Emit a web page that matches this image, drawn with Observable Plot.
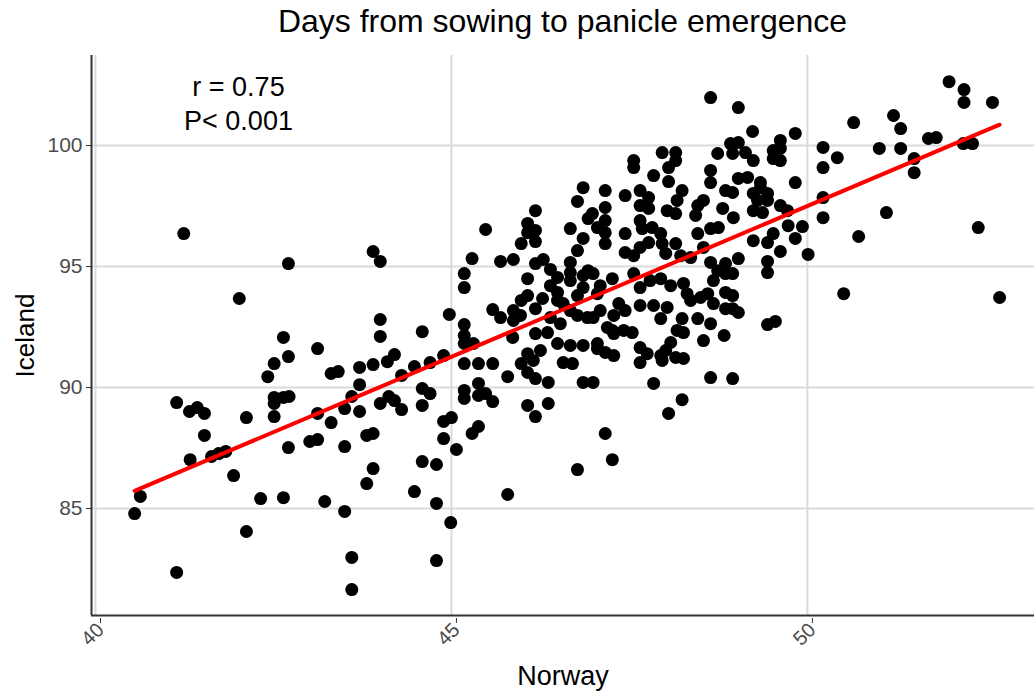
<!DOCTYPE html>
<html><head><meta charset="utf-8">
<script src="https://cdn.jsdelivr.net/npm/d3@7"></script>
<script src="https://cdn.jsdelivr.net/npm/@observablehq/plot@0.6"></script>
<style>
body{margin:0;background:#fff;font-family:"Liberation Sans",Arial,sans-serif;}
#wrap{position:relative;width:1034px;height:693px;}
#title{position:absolute;left:91px;width:943px;top:3px;text-align:center;font-size:32px;color:#000;}
svg{display:block;}
</style></head><body>
<div id="wrap"><div id="title">Days from sowing to panicle emergence</div></div>
<script>
const norway = [
41.24,42.02,42.64,42.51,42.42,42.51,42.51,42.51,42.12,41.14,
41.32,41.43,41.53,41.53,41.33,41.63,41.73,41.83,41.94,40.63,
40.55,42.32,42.64,42.12,41.14,42.71,43.90,44.00,44.97,44.00,
44.00,44.59,42.71,43.12,43.31,43.41,43.71,43.90,44.10,44.20,
44.48,44.70,44.89,43.71,44.30,43.60,42.64,42.72,43.50,43.71,
44.00,44.12,44.20,44.30,44.59,44.70,44.59,43.12,43.31,44.89,
45.00,44.89,43.01,43.12,42.71,43.50,43.81,43.90,45.07,44.59,
44.79,43.90,43.81,44.48,44.79,43.22,43.50,44.99,43.60,44.79,
43.60,
46.85,46.77,46.92,46.18,46.07,46.18,46.07,46.18,45.98,45.48,
46.67,46.85,46.77,46.67,45.29,45.69,45.87,46.18,46.29,46.39,
46.49,46.07,45.18,45.18,46.67,46.67,46.85,46.92,46.39,46.49,
46.07,45.98,46.28,46.18,46.49,46.57,46.67,46.77,46.85,45.58,
45.69,45.87,45.97,45.87,45.18,46.39,46.53,46.77,46.91,45.18,
45.18,45.31,45.18,45.38,45.58,45.79,45.98,46.07,46.15,46.07,
46.18,46.36,46.57,46.70,46.67,46.85,46.85,45.18,45.18,45.38,
45.38,45.48,45.58,46.07,46.18,46.36,45.38,45.29,46.77,45.79,
46.18,46.35,46.49,46.25,45.86,
46.99,47.26,47.09,47.05,47.65,47.56,47.35,47.44,47.28,47.09,
46.99,47.65,47.84,48.03,47.94,48.24,48.46,48.64,48.17,48.26,
48.08,48.01,48.54,47.05,47.16,47.28,47.54,47.42,47.26,47.65,
47.75,47.65,47.94,47.96,48.15,48.26,46.99,47.84,48.64,48.24,
48.05,47.16,47.26,48.83,48.95,47.79,47.94,48.08,48.26,48.31,
48.50,48.68,48.64,48.74,48.68,48.60,48.36,47.19,47.28,47.05,
48.64,47.96,48.15,48.15,48.05,47.56,47.56,47.84,48.05,48.64,
48.64,48.74,47.16,47.16,47.16,47.16,47.16,46.98,47.44,47.65,
47.77,47.65,47.77,47.65,47.68,47.82,47.94,47.77,47.96,47.44,
47.44,47.65,48.24,48.17,48.15,48.03,48.46,48.54,48.43,48.46,
48.15,48.36,48.22,48.64,48.75,47.05,47.56,48.01,48.54,
49.03,49.23,49.83,49.62,49.62,49.52,49.52,49.62,48.92,49.03,
48.95,49.13,49.24,50.22,50.42,50.22,49.83,49.03,49.16,49.34,
49.34,48.85,48.95,49.24,49.44,49.30,49.44,49.62,49.72,50.22,
50.22,49.24,49.37,48.96,49.73,49.93,49.52,49.44,49.24,49.83,
49.62,50.01,49.44,49.44,49.03,48.85,48.85,48.95,48.85,48.95,
48.85,48.95,49.03,49.44,49.55,50.51,
51.99,52.20,52.20,52.60,51.21,51.31,50.65,51.01,51.31,51.70,
51.81,52.19,52.32,51.50,51.50,51.11,50.72,52.40,52.70,48.81
];
const iceland = [
96.36,93.68,92.07,90.99,90.45,89.59,89.34,88.80,88.76,89.38,
89.01,89.17,88.93,88.02,87.02,87.15,87.27,87.36,86.36,85.50,
84.79,85.41,85.45,84.05,82.36,95.12,95.62,95.21,93.02,92.81,
92.11,92.31,91.28,91.61,90.58,90.66,90.83,90.95,91.07,91.36,
90.87,91.03,91.32,90.12,90.50,89.63,89.59,89.63,89.13,89.01,
89.34,89.63,89.46,89.09,89.96,89.75,89.26,88.93,88.55,88.60,
88.76,87.89,87.77,87.85,87.52,87.56,88.02,88.10,87.44,86.94,
86.82,86.65,86.03,85.70,85.21,85.29,84.88,84.42,82.98,82.85,
81.65,
98.26,97.69,96.98,97.31,96.78,96.49,96.40,96.03,95.95,96.53,
96.57,96.16,95.66,95.17,95.33,95.21,95.29,95.12,95.29,94.88,
94.55,94.50,94.71,94.13,94.75,94.42,94.63,94.83,94.21,93.93,
93.80,93.60,93.68,93.26,93.60,93.47,93.18,93.80,94.13,93.22,
92.89,93.18,92.98,92.77,92.60,92.89,92.64,92.98,92.89,92.15,
91.82,91.82,90.99,90.99,90.99,90.45,90.99,91.40,91.12,90.62,
90.37,90.21,91.03,90.99,91.74,91.74,90.21,89.88,89.55,90.17,
89.67,89.75,89.42,89.26,88.80,89.34,88.39,88.10,86.61,85.58,
92.23,92.27,91.82,91.53,92.07,
94.71,94.50,94.21,93.88,94.13,94.71,93.47,93.18,92.98,93.18,
92.89,93.39,93.39,93.31,92.85,92.85,92.85,92.64,92.36,92.27,
91.86,91.53,91.94,91.61,91.45,91.32,92.27,92.36,92.36,91.65,
91.40,91.03,91.32,91.12,91.24,91.20,90.21,90.17,90.41,89.50,
88.93,88.10,87.02,92.15,90.37,94.42,94.50,94.21,94.30,93.88,
93.72,93.47,95.17,94.83,94.42,93.88,93.60,92.48,92.23,91.82,
101.98,99.71,99.71,99.38,99.09,99.38,99.09,98.76,98.51,98.97,
98.47,99.67,98.14,97.44,96.90,96.40,95.95,97.19,97.93,98.14,
97.85,97.52,97.40,96.90,96.57,96.61,96.36,95.99,95.95,96.36,
95.58,95.79,98.14,97.73,97.19,97.31,97.52,97.73,97.11,96.36,
95.95,95.37,95.45,96.57,96.61,96.61,95.45,95.54,95.79,
101.57,100.58,100.50,100.21,99.88,99.79,99.46,99.38,100.08,100.12,
99.67,99.71,99.38,99.92,99.50,99.09,98.47,98.64,98.68,98.47,
98.26,98.14,98.06,98.02,98.02,97.73,97.73,97.52,97.31,97.85,
97.02,97.31,97.23,97.02,96.69,96.65,96.36,95.99,96.07,96.16,
95.62,95.50,95.21,94.75,95.33,95.12,94.71,94.71,93.93,93.80,
93.26,93.26,93.10,92.60,92.73,93.88,
102.64,102.31,101.78,101.78,101.24,100.70,100.95,99.88,99.88,100.29,
100.33,100.08,100.08,99.46,98.88,97.23,96.24,96.61,93.72,97.40
];
const xTicks = [40, 45, 50];
const yTicks = [85, 90, 95, 100];
const xDomain = [39.944, 53.19];
const yDomain = [80.58, 103.72];
const statsText = ["r = 0.75\nP< 0.001"];
const xTitle = ["Norway"];
const yTitle = ["Iceland"];

const data = norway.map((x, i) => ({norway: x, iceland: iceland[i]}));
const font = '"Liberation Sans", Arial, sans-serif';

const chart = Plot.plot({
  width: 1034, height: 693,
  marginLeft: 91, marginRight: 0, marginTop: 55, marginBottom: 78,
  style: {fontFamily: font, background: "white", overflow: "visible"},
  x: {domain: xDomain},
  y: {domain: yDomain},
  marks: [
    Plot.gridX(xTicks, {stroke: "#dadada", strokeOpacity: 1, strokeWidth: 2}),
    Plot.gridY(yTicks, {stroke: "#dadada", strokeOpacity: 1, strokeWidth: 2}),
    Plot.axisX(xTicks, {tickRotate: -45, tickSize: 5, tickPadding: 3, dx: 5, dy: 3, fontSize: 20, fill: "#4d4d4d", stroke: "#333", label: null}),
    Plot.axisY(yTicks, {tickSize: 5, tickPadding: 4, fontSize: 21, fill: "#4d4d4d", stroke: "#333", label: null}),
    Plot.ruleX([xDomain[0]], {stroke: "#333", strokeWidth: 2}),
    Plot.ruleY([yDomain[0]], {stroke: "#333", strokeWidth: 2}),
    Plot.dot(data, {x: "norway", y: "iceland", r: 6.5, fill: "black", stroke: "none"}),
    Plot.linearRegressionY(data, {x: "norway", y: "iceland", stroke: "red", strokeWidth: 4, ci: 0}),
    Plot.text(statsText, {frameAnchor: "top-left", dx: 147, dy: 47, textAnchor: "middle", lineAnchor: "middle", lineHeight: 1.26, fontSize: 27, fill: "black"}),
    Plot.text(xTitle, {frameAnchor: "bottom", dy: 69, fontSize: 27, fill: "black"}),
    Plot.text(yTitle, {frameAnchor: "left", dx: -66, rotate: -90, textAnchor: "middle", fontSize: 26, fill: "black"})
  ]
});
document.getElementById("wrap").appendChild(chart);
</script>
</body></html>
